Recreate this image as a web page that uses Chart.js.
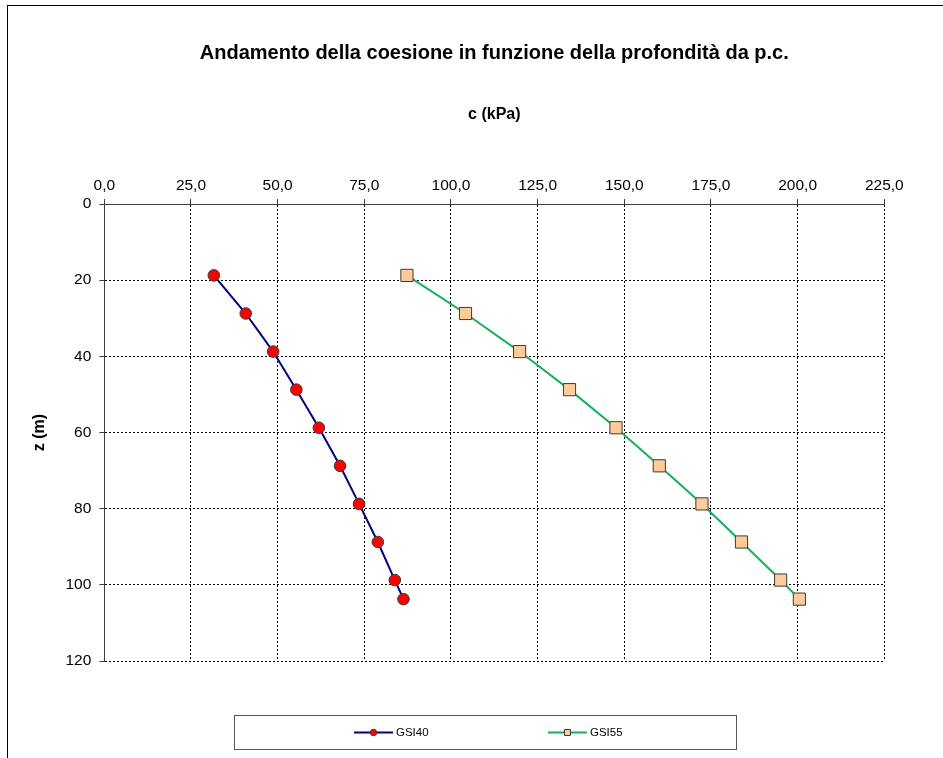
<!DOCTYPE html>
<html><head><meta charset="utf-8">
<script src="https://cdn.jsdelivr.net/npm/chart.js@4/dist/chart.umd.min.js"></script>
<style>html,body{margin:0;padding:0;background:#fff}#wrap{width:943px;height:758px;position:relative}</style>
</head><body><div id="wrap"><canvas id="c" width="943" height="758"></canvas></div>
<script>
// ---- data ----
const chartTitle = 'Andamento della coesione in funzione della profondità da p.c.';
const xAxisTitle = 'c (kPa)';
const yAxisTitle = 'z (m)';
const seriesNames = ['GSI40', 'GSI55'];
const depth = [18.75, 28.75, 38.75, 48.75, 58.75, 68.75, 78.75, 88.75, 98.75, 103.75];
const cohesionGSI40 = [31.6, 40.8, 48.7, 55.4, 61.9, 68.0, 73.5, 78.9, 83.8, 86.3];
const cohesionGSI55 = [87.3, 104.2, 119.8, 134.2, 147.6, 160.1, 172.4, 183.8, 195.1, 200.5];
const xTickValues = [0, 25, 50, 75, 100, 125, 150, 175, 200, 225];
const yTickValues = [0, 20, 40, 60, 80, 100, 120];

// ---- styling ----
const FONT = "'Liberation Sans', Arial, sans-serif";
const legendStyle = { left: 234.5, top: 715.5, width: 502, height: 34, cy: 732.5, itemX: [354, 548], lineW: 39 };

const framePlugin = {
  id: 'frame',
  beforeDraw(chart) {
    const ctx = chart.ctx;
    ctx.save();
    ctx.fillStyle = '#fff';
    ctx.fillRect(0, 0, chart.width, chart.height);
    ctx.strokeStyle = '#000';
    ctx.lineWidth = 1;
    ctx.strokeRect(7.5, 5.5, 2000, 2000);
    ctx.restore();
  }
};

const boxLegendPlugin = {
  id: 'boxLegend',
  afterDraw(chart) {
    const ctx = chart.ctx;
    const L = legendStyle;
    ctx.save();
    ctx.strokeStyle = '#555';
    ctx.lineWidth = 1;
    ctx.strokeRect(L.left, L.top, L.width, L.height);
    chart.data.datasets.forEach((ds, i) => {
      const x0 = L.itemX[i];
      const cy = L.cy;
      ctx.strokeStyle = ds.borderColor;
      ctx.lineWidth = 2;
      ctx.beginPath();
      ctx.moveTo(x0, cy);
      ctx.lineTo(x0 + L.lineW, cy);
      ctx.stroke();
      const mx = x0 + L.lineW / 2;
      ctx.fillStyle = ds.pointBackgroundColor;
      ctx.strokeStyle = ds.pointBorderColor;
      ctx.lineWidth = 1;
      ctx.beginPath();
      if (ds.pointStyle === 'circle') {
        ctx.arc(mx, cy, 3.2, 0, Math.PI * 2);
      } else {
        ctx.rect(mx - 3, cy - 3, 6, 6);
      }
      ctx.fill();
      ctx.stroke();
      ctx.fillStyle = '#000';
      ctx.font = '11.5px ' + FONT;
      ctx.textBaseline = 'middle';
      ctx.textAlign = 'left';
      ctx.fillText(ds.label, x0 + L.lineW + 3, cy);
    });
    ctx.restore();
  }
};

const toPoints = (xs) => depth.map((z, i) => ({ x: xs[i], y: z }));

const gridOpts = { color: '#000', lineWidth: 1, tickLength: 5, tickColor: '#404040', tickWidth: 1 };
const borderOpts = { display: true, color: '#404040', width: 1, dash: [2, 2] };

new Chart(document.getElementById('c'), {
  type: 'scatter',
  data: {
    datasets: [
      {
        label: seriesNames[0],
        data: toPoints(cohesionGSI40),
        showLine: true,
        borderColor: '#000080',
        borderWidth: 2,
        pointStyle: 'circle',
        pointRadius: 5.8,
        pointBackgroundColor: '#FF0000',
        pointBorderColor: '#3a3a3a',
        pointBorderWidth: 1,
        tension: 0
      },
      {
        label: seriesNames[1],
        data: toPoints(cohesionGSI55),
        showLine: true,
        borderColor: '#17B05A',
        borderWidth: 2,
        pointStyle: 'rect',
        pointRadius: 8.6,
        pointBackgroundColor: '#FFCC99',
        pointBorderColor: '#3a3a3a',
        pointBorderWidth: 1,
        tension: 0
      }
    ]
  },
  options: {
    responsive: false,
    animation: false,
    devicePixelRatio: 1,
    layout: { padding: { top: 0, left: 0, right: 58.7, bottom: 97 } },
    plugins: {
      legend: { display: false },
      tooltip: { enabled: false },
      title: {
        display: true,
        fullSize: false,
        text: chartTitle,
        color: '#000',
        font: { family: FONT, size: 20, weight: 'bold' },
        padding: { top: 41, bottom: 0 }
      }
    },
    scales: {
      x: {
        type: 'linear',
        position: 'top',
        min: xTickValues[0],
        max: xTickValues[xTickValues.length - 1],
        afterBuildTicks: (s) => { s.ticks = xTickValues.map(v => ({ value: v })); },
        afterFit: (s) => { s.height = 139; },
        ticks: {
          color: '#000',
          font: { family: FONT, size: 15.5 },
          padding: 4,
          maxRotation: 0,
          callback: (v) => Number(v).toFixed(1).replace('.', ',')
        },
        grid: gridOpts,
        border: borderOpts,
        title: {
          display: true,
          text: xAxisTitle,
          color: '#000',
          font: { family: FONT, size: 16, weight: 'bold' },
          padding: { top: 39.8, bottom: 0 }
        }
      },
      y: {
        type: 'linear',
        reverse: true,
        min: yTickValues[0],
        max: yTickValues[yTickValues.length - 1],
        afterBuildTicks: (s) => { s.ticks = yTickValues.map(v => ({ value: v })); },
        afterFit: (s) => { s.width = 104.3; },
        ticks: {
          color: '#000',
          font: { family: FONT, size: 15.5 },
          padding: 8,
          callback: (v) => String(v)
        },
        grid: gridOpts,
        border: borderOpts,
        title: {
          display: true,
          text: yAxisTitle,
          color: '#000',
          font: { family: FONT, size: 16, weight: 'bold' },
          padding: { top: 30.4, bottom: 0 }
        }
      }
    }
  },
  plugins: [framePlugin, boxLegendPlugin]
});
</script>
</body></html>
